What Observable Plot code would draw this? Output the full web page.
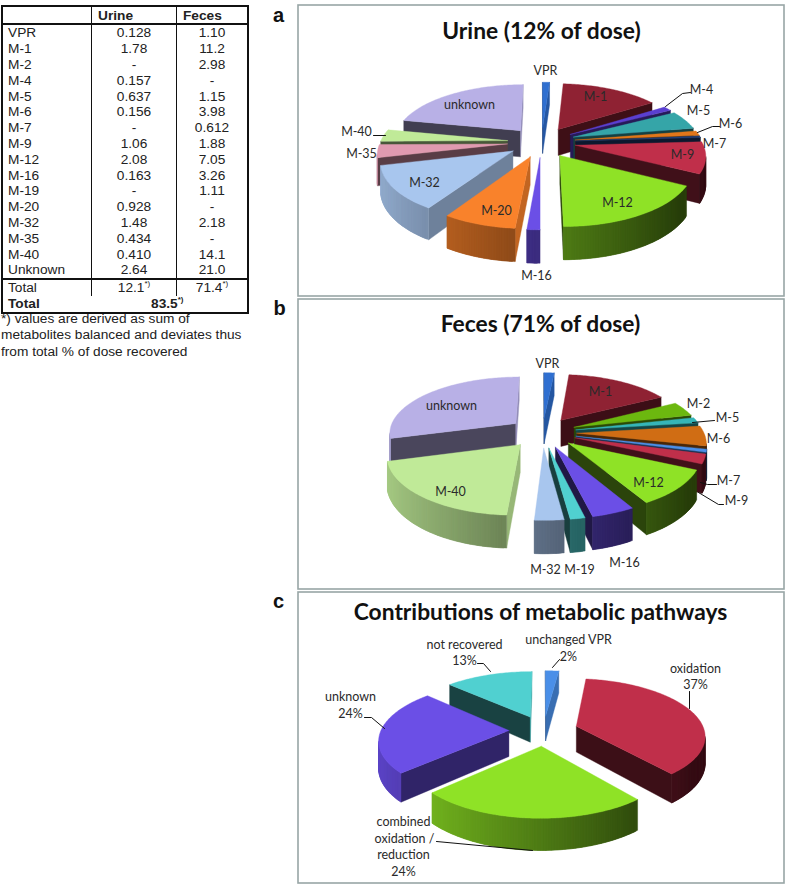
<!DOCTYPE html>
<html>
<head>
<meta charset="utf-8">
<script src="https://cdn.jsdelivr.net/npm/d3@7"></script>
<script src="https://cdn.jsdelivr.net/npm/@observablehq/plot@0.6"></script>
<style>
html,body{margin:0;padding:0;background:#fff;width:785px;height:884px;overflow:hidden}
#chart{position:absolute;left:0;top:0}
#tbl{position:absolute;left:1px;top:5px;width:248px;border-collapse:collapse;font:13.7px "Liberation Sans",Arial,sans-serif;color:#222;table-layout:fixed;box-sizing:border-box;border:2px solid #111}
#tbl td,#tbl th{padding:0;line-height:15px;white-space:nowrap}
#tbl td:nth-child(1),#tbl th:nth-child(1){width:83px;padding-left:5px;text-align:left;border-right:1.5px solid #111}
#tbl td:nth-child(2){text-align:center;border-right:1.5px solid #111}
#tbl th:nth-child(2){width:78px;border-right:1.5px solid #111}
#tbl td:nth-child(3),#tbl th:nth-child(3){text-align:center}
#tbl th{height:16px;border-bottom:2px solid #111}
#tbl th:nth-child(2),#tbl th:nth-child(3){text-align:left;padding-left:6px}
#tbl tr.r td{height:15.8px}
#tbl tr.t td{height:16px}
#tbl tr.first td{border-top:2px solid #111}
#tbl sup{font-size:8px;line-height:0}
#note{position:absolute;left:1px;top:311px;width:265px;font:13.7px/16.3px "Liberation Sans",Arial,sans-serif;color:#222;white-space:nowrap}
</style>
</head>
<body>
<div id="chart"></div>
<table id="tbl"></table>
<div id="note">*) values are derived as sum of<br>metabolites balanced and deviates thus<br>from total % of dose recovered</div>
<script>
// ---- table contents
const tableRows = ["VPR","M-1","M-2","M-4","M-5","M-6","M-7","M-9","M-12","M-16","M-19","M-20","M-32","M-35","M-40","Unknown"];
const tableUrine = ["0.128","1.78","-","0.157","0.637","0.156","-","1.06","2.08","0.163","-","0.928","1.48","0.434","0.410","2.64"];
const tableFeces = ["1.10","11.2","2.98","-","1.15","3.98","0.612","1.88","7.05","3.26","1.11","-","2.18","-","14.1","21.0"];

// ---- pie a
const urineNames = ["VPR","M-1","M-4","M-5","M-6","M-7","M-9","M-12","M-16","M-20","M-32","M-35","M-40","unknown"];
const urineValues = [0.128,1.78,0.157,0.637,0.156,0.05,1.06,2.08,0.163,0.928,1.48,0.434,0.410,2.64];
const urineColors = ["#2f6fd0","#8f2233","#5a3fd0","#35a5a8","#e0761a","#1f3f7a","#c02f4a","#8fe226","#6b4fe6","#f9822b","#a8c6ee","#e09ab0","#c0ea98","#b8b0e6"];
// ---- pie b
const fecesNames = ["VPR","M-1","M-2","M-5","M-6","M-7","M-9","M-12","M-16","M-19","M-32","M-40","unknown"];
const fecesValues = [1.10,11.2,2.98,1.15,3.98,0.612,1.88,7.05,3.26,1.11,2.18,14.1,21.0];
const fecesColors = ["#2f6fd0","#8f2233","#6cb80f","#35b5b8","#d06d14","#4a8fe8","#c02f4a","#8fe226","#6b4fe6","#50d0d0","#a8c6ee","#c0ea98","#b8b0e6"];
// ---- pie c
const pathwayNames = ["unchanged VPR","oxidation","combined oxidation / reduction","unknown","not recovered"];
const pathwayValues = [2,37,24,24,13];
const pathwayColors = ["#4a8fe8","#c02f4a","#8fe226","#6b4fe6","#50d0d0"];

// ---- layout (page pixels)
const panels = [
  {id:"a",names:urineNames,values:urineValues,colors:urineColors,cx:541,cy:141.5,R:127,Rt:56,k:.15,e:.27,d:27},
  {id:"b",names:fecesNames,values:fecesValues,colors:fecesColors,cx:542,cy:432,R:127,Rt:56,k:.15,e:.27,d:27},
  {id:"c",names:pathwayNames,values:pathwayValues,colors:pathwayColors,cx:543,cy:730,R:128,Rt:56,k:.15,e:.27,d:26}
];
const frames = [{x1:298,x2:784,y1:5,y2:296},{x1:298,x2:784,y1:299,y2:589},{x1:298,x2:784,y1:592,y2:883}];
const letters = [{t:"a",x:278,y:15},{t:"b",x:279,y:308},{t:"c",x:278,y:601}];
const titles = [{t:"Urine (12% of dose)",x:541,y:31},{t:"Feces (71% of dose)",x:540,y:324},{t:"Contributions of metabolic pathways",x:540,y:612}];
const labels = [
 ["VPR",545,70],["M-1",595,96],["M-4",701,89],["M-5",698,110],["M-6",730,123],["M-7",714,143],["M-9",682,154],["M-12",617,202],["M-16",536,275],["M-20",496,210],["M-32",424,182],["M-35",361,153],["M-40",356,131],["unknown",469,104],
 ["VPR",547,363],["M-1",600,391],["M-2",698,403],["M-5",727,417],["M-6",718,438],["M-7",728,480],["M-9",736,500],["M-12",648,482],["M-16",624,562],["M-19",579,569],["M-32",545,569],["M-40",450,491],["unknown",451,405],
 ["unchanged VPR",568,639],["2%",568,656],["oxidation",695,668],["37%",695,684],["not recovered",464,644],["13%",464,660],["unknown",350,696],["24%",350,713],["combined",403,821],["oxidation /",404,838],["reduction",403,854],["24%",403,871]
].map(([t,x,y])=>({t,x,y}));
const leaders = [
 [[690,92],[682,93],[665,106]],[[719,126],[712,126],[697,132]],[[373,135],[385,135]],
 [[714,420],[692,422]],[[716,484],[707,484],[700,482]],[[723,504],[718,504],[698,492]],
 [[559,659],[552,667]],[[689,691],[689,708]],[[477,663],[483,663],[490,671]],[[364,717],[371,717],[384,728]],[[436,841],[532,850]]
].flatMap((pts,i)=>pts.map(([x,y])=>({id:i,x,y})));

// ---- geometry derived from the values
const rad = a => a*Math.PI/180;
const faceShade = d3.scaleLinear([90,123,137,192,240],[.8,.65,.45,.35,.3]).clamp(true);
const wallShade = t => Math.max(.28,.55-.33*Math.sin(rad(t)));
const tint = (c,f) => {const r=d3.rgb(c);return d3.rgb(r.r*f,r.g*f,r.b*f).formatHex();};
const polys = [];
let pid = 0;
function addPoly(pts,fill){const id=pid++;for(const [x,y] of [...pts,pts[0]])polys.push({id,x,y,fill});}
for (const p of panels) {
  const total = d3.sum(p.values);
  let acc = 0;
  const wedges = p.values.map((v,i)=>{const a0=acc/total*360;acc+=v;const a1=acc/total*360;return {a0,a1,mid:(a0+a1)/2,color:p.colors[i]};});
  wedges.sort((a,b)=>Math.cos(rad(b.mid))-Math.cos(rad(a.mid)));
  for (const w of wedges) {
    const ex=p.e*Math.sin(rad(w.mid)), ey=p.e*Math.cos(rad(w.mid));
    const proj=(u,v,drop)=>{const s=1/(1+p.k*v);return [p.cx+p.R*u*s,p.cy-p.Rt*v*s+(drop?p.d*s:0)];};
    const rim=(t,drop)=>proj(ex+Math.sin(rad(t)),ey+Math.cos(rad(t)),drop);
    const tip=drop=>proj(ex,ey,drop);
    const n=Math.max(2,Math.ceil(w.a1-w.a0));
    const ts=d3.range(n+1).map(i=>w.a0+(w.a1-w.a0)*i/n);
    if (tip(false)[0]>rim(w.a0,false)[0]) addPoly([tip(false),rim(w.a0,false),rim(w.a0,true),tip(true)],tint(w.color,faceShade(w.a0-90<0?w.a0+270:w.a0-90)));
    if (rim(w.a1,false)[0]>tip(false)[0]) addPoly([rim(w.a1,false),tip(false),tip(true),rim(w.a1,true)],tint(w.color,faceShade(w.a1+90>360?w.a1-270:w.a1+90)));
    // curved wall, in overlapping strips so no seams show
    for (let i=n-1;i>=0;i--){
      const a=rim(ts[i],false),b=rim(ts[Math.min(n,i+2)],false);
      if (rim(ts[i+1],false)[0]<a[0]) addPoly([a,rim(ts[i+1],false),b,rim(ts[Math.min(n,i+2)],true),rim(ts[i+1],true),rim(ts[i],true)],tint(w.color,wallShade((ts[i]+ts[i+1])/2)));
    }
    addPoly([tip(false),...ts.map(t=>rim(t,false))],w.color);
  }
}

const chart = Plot.plot({
  width:785,height:884,margin:0,
  style:{background:"transparent"},
  x:{domain:[0,785],range:[0,785],axis:null},
  y:{domain:[0,884],range:[0,884],axis:null},
  color:{type:"identity"},
  marks:[
    Plot.rect(frames,{x1:"x1",x2:"x2",y1:"y1",y2:"y2",fill:"white",stroke:"#98a6a6",strokeWidth:1.6}),
    Plot.line(polys,{x:"x",y:"y",z:"id",fill:"fill",stroke:"fill",strokeWidth:.4}),
    Plot.line(leaders,{x:"x",y:"y",z:"id",stroke:"#111",strokeWidth:1}),
    Plot.text(labels,{x:"x",y:"y",text:"t",fontFamily:"Lato",fontSize:12.5,fill:"#2a2a2a"}),
    Plot.text(titles,{x:"x",y:"y",text:"t",fontFamily:"Lato",fontWeight:"bold",fontSize:22.8,fill:"#111"}),
    Plot.text(letters,{x:"x",y:"y",text:"t",fontFamily:"Liberation Sans",fontWeight:"bold",fontSize:20,fill:"#111"})
  ]
});
document.getElementById("chart").append(chart);

// ---- table
const tbl = d3.select("#tbl");
const head = tbl.append("tr");
["","Urine","Feces"].forEach(h=>head.append("th").text(h));
tableRows.forEach((r,i)=>{
  const tr=tbl.append("tr").attr("class","r");
  tr.append("td").text(r);tr.append("td").text(tableUrine[i]);tr.append("td").text(tableFeces[i]);
});
const t1=tbl.append("tr").attr("class","t first");
t1.append("td").text("Total");
t1.append("td").html("12.1<sup>*)</sup>");
t1.append("td").html("71.4<sup>*)</sup>");
const t2=tbl.append("tr").attr("class","t");
t2.append("td").style("font-weight","bold").style("border-right","none").text("Total");
t2.append("td").attr("colspan",2).style("font-weight","bold").style("border-right","none").style("text-align","center").style("padding-right","4px").html("83.5<sup>*)</sup>");
</script>
</body>
</html>
